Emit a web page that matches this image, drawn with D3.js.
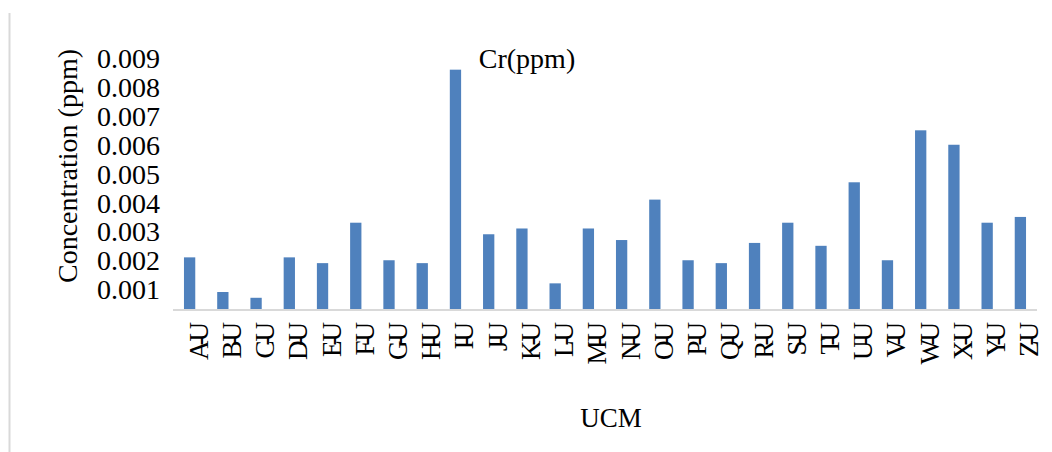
<!DOCTYPE html>
<html>
<head>
<meta charset="utf-8">
<script src="https://cdn.jsdelivr.net/npm/d3@7"></script>
<style>
  body { margin: 0; background: #fff; }
  text { font-family: "Liberation Serif", "Times New Roman", serif; fill: #000; }
</style>
</head>
<body>
<svg id="chart" width="1052" height="452"></svg>
<script>

// sites and Cr concentration (ppm)
let sites = ['A-U', 'B-U', 'C-U', 'D-U', 'E-U', 'F-U', 'G-U', 'H-U', 'I-U', 'J-U', 'K-U', 'L-U', 'M-U',
             'N-U', 'O-U', 'P-U', 'Q-U', 'R-U', 'S-U', 'T-U', 'U-U', 'V-U', 'W-U', 'X-U', 'Y-U', 'Z-U'];
let crValues = [0.0021, 0.0009, 0.0007, 0.0021, 0.0019, 0.0033, 0.002, 0.0019, 0.0086, 0.0029, 0.0031, 0.0012, 0.0031,
                0.0027, 0.0041, 0.002, 0.0019, 0.0026, 0.0033, 0.0025, 0.0047, 0.002, 0.0065, 0.006, 0.0033, 0.0035];
let yTicks = [0.001, 0.002, 0.003, 0.004, 0.005, 0.006, 0.007, 0.008, 0.009];

let svg = d3.select('#chart');

// left frame edge
svg.append('line')
   .attr('x1', 9.5).attr('x2', 9.5)
   .attr('y1', 13).attr('y2', 452)
   .attr('stroke', '#d9d9d9')
   .attr('stroke-width', 2);

let x = d3.scaleBand()
          .domain(sites)
          .range([173, 1037])
          .paddingInner(0.66)
          .paddingOuter(0.33);

let y = d3.scaleLinear()
          .domain([0, 0.01])
          .range([318, 29.25]);

// the category axis sits a little above the zero of the labels
let baseY = 310;

// y tick labels (no axis line, no gridlines)
let yAxis = d3.axisLeft(y)
              .tickValues(yTicks)
              .tickSize(0)
              .tickPadding(0)
              .tickFormat(d3.format('.3f'));

let gy = svg.append('g')
            .attr('transform', 'translate(160,0)')
            .call(yAxis);
gy.select('.domain').remove();
gy.selectAll('text')
  .attr('font-size', 28)
  .attr('font-family', '"Liberation Serif", "Times New Roman", serif')
  .attr('dy', '0.34em');

// bars
svg.selectAll('rect.bar')
   .data(crValues)
   .enter()
   .append('rect')
   .classed('bar', true)
   .attr('x', (d, i) => x(sites[i]))
   .attr('width', x.bandwidth())
   .attr('y', d => y(d))
   .attr('height', d => baseY - y(d))
   .attr('fill', '#4f81bd');

// category axis line
svg.append('line')
   .attr('x1', 173).attr('x2', 1037)
   .attr('y1', baseY).attr('y2', baseY)
   .attr('stroke', '#d9d9d9')
   .attr('stroke-width', 2);

// category labels
svg.selectAll('text.xlabel')
   .data(sites)
   .enter()
   .append('text')
   .classed('xlabel', true)
   .attr('transform', d => 'translate(' + (x(d) + x.bandwidth() / 2 + 18) + ',327) rotate(-90)')
   .attr('text-anchor', 'end')
   .attr('font-size', 27)
   .attr('letter-spacing', -5)
   .text(d => d);

// title
svg.append('text')
   .attr('x', 527)
   .attr('y', 68)
   .attr('text-anchor', 'middle')
   .attr('font-size', 28)
   .text('Cr(ppm)');

// axis titles
svg.append('text')
   .attr('transform', 'translate(77,166) rotate(-90)')
   .attr('text-anchor', 'middle')
   .attr('font-size', 28)
   .text('Concentration (ppm)');

svg.append('text')
   .attr('x', 611)
   .attr('y', 427)
   .attr('text-anchor', 'middle')
   .attr('font-size', 27)
   .text('UCM');

</script>
</body>
</html>
